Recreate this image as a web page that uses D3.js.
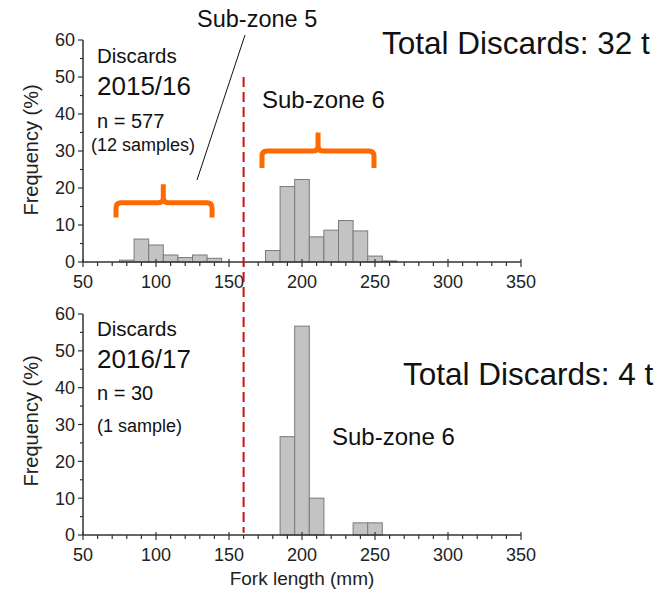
<!DOCTYPE html>
<html><head><meta charset="utf-8">
<script src="https://cdn.jsdelivr.net/npm/d3@7"></script>
<style>body{margin:0;background:#fff}svg{display:block}text{font-family:"Liberation Sans",Arial,sans-serif}</style>
</head><body><svg id="c" width="672" height="589"></svg>
<script>
const binStarts = [75,85,95,105,115,125,135,145,155,165,175,185,195,205,215,225,235,245,255];
const binWidth = 10;
const freq2015 = [0.5,6.2,4.6,1.9,1.2,1.9,1.0,0,0,0,3.1,20.4,22.3,6.8,8.6,11.2,8.4,1.6,0.3];
const freq2016 = [0,0,0,0,0,0,0,0,0,0,0,26.7,56.7,10.0,0,0,3.3,3.3,0];
const xTicks = [50,100,150,200,250,300,350];
const yTicks = [0,10,20,30,40,50,60];
const boundary = 160;
// braces: [x0, x1, xCenter, yEnd, yMid, yTop] in data units (top panel)
const braces = [[72.6,138.4,105,12,16,21],[172.6,249.3,211,25.4,30,35]];

const svg = d3.select("#c");
const x = d3.scaleLinear().domain([50,350]).range([83,521]);
const yTop = d3.scaleLinear().domain([0,60]).range([262,40]);
const yBot = d3.scaleLinear().domain([0,60]).range([535,314]);

function panel(y, vals, labelY){
  const g = svg.append("g");
  const data = binStarts.map((s,i)=>({s, v: vals[i]})).filter(d=>d.v>0);
  g.selectAll("rect").data(data).enter().append("rect")
    .attr("x", d=>x(d.s)).attr("width", d=>x(d.s+binWidth)-x(d.s))
    .attr("y", d=>y(d.v)).attr("height", d=>y(0)-y(d.v))
    .attr("fill","#c3c3c3").attr("stroke","#7a7a7a").attr("stroke-width",1);
  const ax = "#333";
  g.append("line").attr("x1",x(50)).attr("x2",x(350)).attr("y1",y(0)).attr("y2",y(0)).attr("stroke",ax).attr("stroke-width",1.5);
  d3.range(50,351,10).forEach(t=>{
    const maj = t%50===0;
    g.append("line").attr("x1",x(t)).attr("x2",x(t)).attr("y1",y(0)-(maj?3:0)).attr("y2",y(0)+(maj?5:4)).attr("stroke",ax).attr("stroke-width",1.2);
  });
  g.selectAll(".xl").data(xTicks).enter().append("text").attr("x",d=>x(d)).attr("y",labelY)
    .attr("text-anchor","middle").attr("font-size",18).attr("fill","#222").text(d=>d);
  g.append("line").attr("x1",x(50)).attr("x2",x(50)).attr("y1",y(0)).attr("y2",y(60)).attr("stroke",ax).attr("stroke-width",1.5);
  d3.range(0,61,5).forEach(t=>{
    const maj = t%10===0;
    g.append("line").attr("x1",x(50)-(maj?5:3)).attr("x2",x(50)).attr("y1",y(t)).attr("y2",y(t)).attr("stroke",ax).attr("stroke-width",1.2);
  });
  g.selectAll(".yl").data(yTicks).enter().append("text").attr("x",x(50)-8).attr("y",d=>y(d)).attr("dy","0.36em")
    .attr("text-anchor","end").attr("font-size",18).attr("fill","#222").text(d=>d);
  return g;
}
panel(yTop, freq2015, 288);
panel(yBot, freq2016, 561);

[[31,150],[31,421]].forEach(p=>{
  svg.append("text").attr("transform",`translate(${p[0]},${p[1]}) rotate(-90)`).attr("text-anchor","middle")
    .attr("dy","0.35em").attr("font-size",20).attr("fill","#222").text("Frequency (%)");
});
svg.append("text").attr("x",302).attr("y",585).attr("text-anchor","middle").attr("font-size",19).attr("fill","#222").text("Fork length (mm)");

svg.append("line").attr("x1",x(boundary)).attr("x2",x(boundary)).attr("y1",yTop(50)).attr("y2",yBot(0.6))
  .attr("stroke","#cc1111").attr("stroke-width",2).attr("stroke-dasharray","10,5");

braces.forEach(b=>{
  const [a0,a1,ac,e,m,t] = b;
  const X0=x(a0),X1=x(a1),XC=x(ac),YE=yTop(e),YM=yTop(m),YT=yTop(t),r=5;
  const p = `M${X0},${YE} L${X0},${YM+r} Q${X0},${YM} ${X0+r},${YM} L${XC-r},${YM} Q${XC},${YM} ${XC},${YM-r} L${XC},${YT} M${XC},${YM-r} Q${XC},${YM} ${XC+r},${YM} L${X1-r},${YM} Q${X1},${YM} ${X1},${YM+r} L${X1},${YE}`;
  svg.append("path").attr("d",p).attr("fill","none").attr("stroke","#ff6a00").attr("stroke-width",5).attr("stroke-linejoin","round");
});
svg.append("line").attr("x1",245).attr("y1",35).attr("x2",197).attr("y2",180).attr("stroke","#111").attr("stroke-width",1);

function txt(xp,yp,s,size){svg.append("text").attr("x",xp).attr("y",yp).attr("font-size",size).attr("fill","#111").text(s);}
txt(197,27,"Sub-zone 5",23.5);
txt(262,108,"Sub-zone 6",24);
txt(382,54,"Total Discards: 32 t",31.5);
txt(97,63,"Discards",20.5);
txt(97,95,"2015/16",26);
txt(97,128,"n = 577",20);
txt(91,151,"(12 samples)",18);
txt(97,336,"Discards",20.5);
txt(97,368,"2016/17",26);
txt(97,400,"n = 30",20);
txt(97,432,"(1 sample)",18);
txt(403,385,"Total Discards: 4 t",31.5);
txt(332,445,"Sub-zone 6",24);
</script></body></html>
